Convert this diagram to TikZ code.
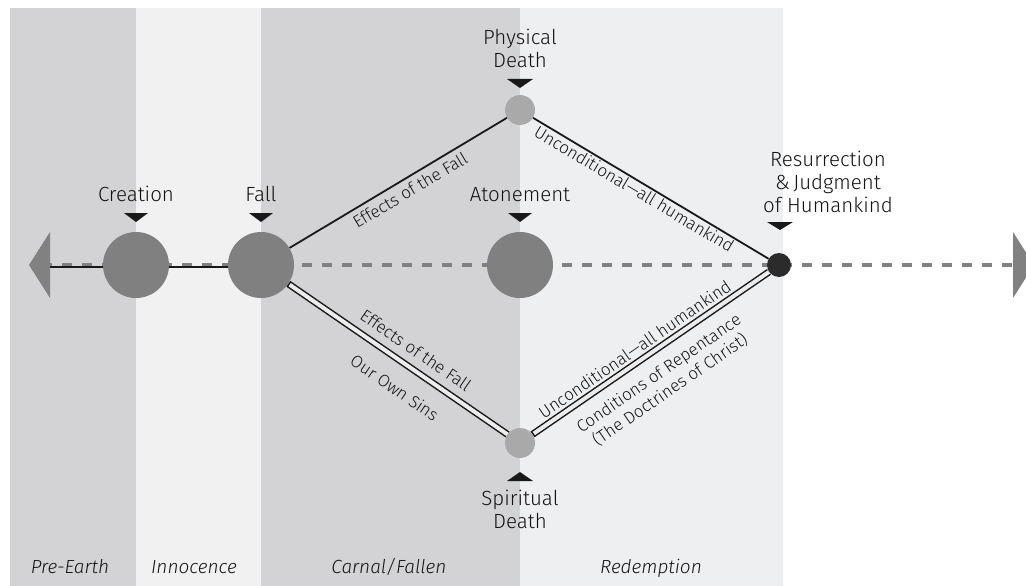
\documentclass[tikz,border=0pt]{standalone}
\usepackage{fontspec}
\setmainfont{Fira Sans Light}[ItalicFont={Fira Sans Light Italic}]
\usetikzlibrary{arrows.meta,calc}
\definecolor{banddark}{HTML}{D3D3D5}
\definecolor{bandlight}{HTML}{F1F1F2}
\definecolor{bandred}{HTML}{EEEFF0}
\definecolor{bigdot}{HTML}{808080}
\definecolor{smalldot}{HTML}{A9A9A9}
\definecolor{resdot}{HTML}{2B2B2B}
\definecolor{dashgray}{HTML}{818181}
\definecolor{dblfill}{HTML}{ECECED}
\definecolor{txt}{HTML}{141414}
\pgfdeclarelayer{back}
\pgfdeclarelayer{lines}
\pgfsetlayers{back,lines,main}
\begin{document}
\begin{tikzpicture}[x=1pt,y=-1pt,
  bigc/.style={circle,fill=bigdot,minimum size=66pt,inner sep=0},
  smallc/.style={circle,fill=smalldot,minimum size=30pt,inner sep=0},
  resc/.style={circle,fill=resdot,minimum size=24pt,inner sep=0},
  lbl/.style={font=\fontsize{20.5}{23}\selectfont,inner sep=0,align=center,text=txt},
  slbl/.style={font=\fontsize{17}{20}\selectfont,inner sep=0,align=center,sloped,text=txt},
  era/.style={font=\itshape\fontsize{19}{22}\selectfont,anchor=base,inner sep=0,text=txt},
  solidl/.style={line width=1.8pt,black!90},
  dblout/.style={line width=7pt,black!90},
  dblin/.style={line width=4pt,dblfill,shorten <=1.6pt},
  dashl/.style={line width=4.5pt,dashgray,dash pattern=on 10pt off 10pt},
  marker/.style={fill=black!90}
]
\clip (0,0) rectangle (1026,586);
\begin{pgfonlayer}{back}
\fill[white] (0,0) rectangle (1026,586);
\fill[banddark] (10,8) rectangle (136,586);
\fill[bandlight] (136,8) rectangle (261,586);
\fill[banddark] (261,8) rectangle (520,586);
\fill[bandred] (520,8) rectangle (783,586);
\end{pgfonlayer}

% nodes
\node[bigc] (creation) at (136,265) {};
\node[bigc] (fall) at (261,265) {};
\node[bigc] (atone) at (520,265) {};
\node[smallc] (pd) at (520,110) {};
\node[smallc] (sd) at (520,443) {};
\node[resc] (res) at (779,265) {};
\coordinate (lend) at (42,265);
\coordinate (rend) at (1012,265);

% arrowheads
\fill[dashgray] (29,265) -- (50,232) -- (50,298) -- cycle;
\fill[dashgray] (1013,232) -- (1013,298) -- (1034,265) -- cycle;

\begin{pgfonlayer}{lines}
\draw[dashl] (lend) -- (rend);
\draw[line width=1.6pt,black!90,-{Stealth[length=7pt,width=8pt]},transform canvas={yshift=-2pt}] (fall.center) -- (lend);
\draw[solidl] (fall) -- node[slbl,pos=0.525,below=5pt] (t1) {Effects of the Fall} (pd);
\draw[solidl] (pd) -- node[slbl,pos=0.45,below=1.5pt] (t2) {Unconditional---all humankind} (res);
\draw[dblout] (fall) -- (sd);
\draw[dblin] (fall) -- node[slbl,pos=0.537,above=9pt] (t3) {Effects of the Fall}
  node[slbl,pos=0.551,below=17pt] (t4) {Our Own Sins} (sd);
\draw[dblout] (sd) -- (res);
\draw[dblin] (sd) -- node[slbl,pos=0.462,above=4pt] (t5) {Unconditional---all humankind}
  node[slbl,pos=0.483,below=12pt] (t6) {Conditions of Repentance\\(The Doctrines of Christ)} (res);
\end{pgfonlayer}

% markers
\fill[marker] (124,213) -- (148,213) -- (136,222) -- cycle;
\fill[marker] (249,213) -- (273,213) -- (261,222) -- cycle;
\fill[marker] (508,213) -- (532,213) -- (520,222) -- cycle;
\fill[marker] (507,79) -- (533,79) -- (520,88) -- cycle;
\fill[marker] (767,222) -- (793,222) -- (780,230) -- cycle;
\fill[marker] (507,481) -- (533,481) -- (520,472) -- cycle;

% labels
\node[lbl,anchor=south] (lcre) at (136,202) {Creation};
\node[lbl,anchor=south] (lfall) at (261,202) {Fall};
\node[lbl,anchor=south] (latone) at (520,202) {Atonement};
\node[lbl,anchor=south] (lpd) at (520,68) {Physical\\Death};
\node[lbl,anchor=south] (lres) at (828,213) {Resurrection\\\&\,Judgment\\of Humankind};
\node[lbl,anchor=north] (lsd) at (520,490) {Spiritual\\Death};

\node[era] (e1) at (70,573) {Pre-Earth};
\node[era] (e2) at (194,573) {Innocence};
\node[era] (e3) at (389,573) {Carnal/Fallen};
\node[era] (e4) at (651,573) {Redemption};
\end{tikzpicture}
\end{document}
